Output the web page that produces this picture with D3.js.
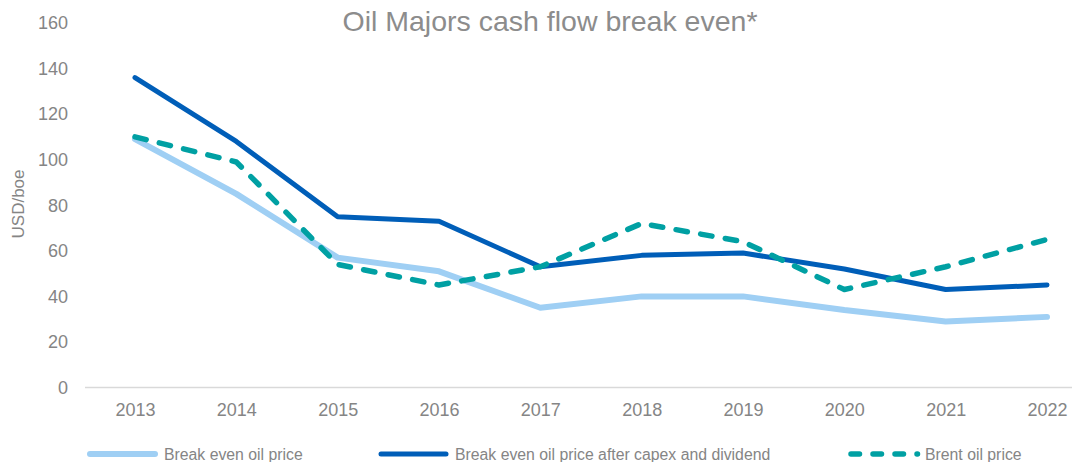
<!DOCTYPE html>
<html>
<head>
<meta charset="utf-8">
<script src="https://cdn.jsdelivr.net/npm/d3@7"></script>
<style>
  body { margin: 0; background: #fff; }
  svg { display: block; font-family: "Liberation Sans", Arial, sans-serif; }
</style>
</head>
<body>
<div id="chart"></div>
<script>
var width = 1072, height = 462;

var years = ["2013", "2014", "2015", "2016", "2017", "2018", "2019", "2020", "2021", "2022"];
var breakEven = [109, 85, 57, 51, 35, 40, 40, 34, 29, 31];
var afterCapex = [136, 108, 75, 73, 53, 58, 59, 52, 43, 45];
var brent = [110, 99, 54, 45, 53, 72, 64, 43, 53, 65];
var yTicks = [0, 20, 40, 60, 80, 100, 120, 140, 160];
var seriesNames = ["Break even oil price", "Break even oil price after capex and dividend", "Brent oil price"];

var series = [
  {name: seriesNames[0], values: breakEven, color: "#9fcff4", width: 6, dash: null, legendDash: null},
  {name: seriesNames[1], values: afterCapex, color: "#005eb8", width: 5, dash: null, legendDash: null},
  {name: seriesNames[2], values: brent, color: "#00a0a3", width: 5.5, dash: "11.5,13.5", legendDash: "8.5,13.5"}
];

var textGrey = "#858585";

var svg = d3.select("#chart").append("svg")
    .attr("width", width)
    .attr("height", height);

var xScale = d3.scalePoint()
    .domain(years)
    .range([135, 1047]);

var yScale = d3.scaleLinear()
    .domain([0, 160])
    .range([387.5, 23]);

// title
svg.append("text")
    .attr("x", 550)
    .attr("y", 31)
    .attr("text-anchor", "middle")
    .attr("fill", "#8c8c8c")
    .style("font-size", "28.5px")
    .text("Oil Majors cash flow break even*");

// y axis (labels only)
var yAxis = d3.axisLeft(yScale)
    .tickValues(yTicks)
    .tickSize(0)
    .tickPadding(0);
var yG = svg.append("g")
    .attr("transform", "translate(68,0)")
    .call(yAxis);
yG.select(".domain").remove();
yG.selectAll("text")
    .attr("fill", textGrey)
    .style("font-size", "18px")
    .style("font-family", "Liberation Sans, Arial, sans-serif");

svg.append("text")
    .attr("transform", "translate(24,204) rotate(-90)")
    .attr("text-anchor", "middle")
    .attr("fill", textGrey)
    .style("font-size", "17px")
    .text("USD/boe");

// x axis
var xAxis = d3.axisBottom(xScale).tickSize(0).tickPadding(16);
var xG = svg.append("g")
    .attr("transform", "translate(0," + yScale(0) + ")")
    .call(xAxis);
xG.select(".domain").remove();
xG.selectAll("text")
    .attr("fill", textGrey)
    .style("font-size", "18px")
    .style("font-family", "Liberation Sans, Arial, sans-serif");

svg.append("line")
    .attr("x1", 85)
    .attr("x2", 1072)
    .attr("y1", yScale(0))
    .attr("y2", yScale(0))
    .attr("stroke", "#d9d9d9")
    .attr("stroke-width", 1.5);

// lines
var line = d3.line()
    .x(function(d, i) { return xScale(years[i]); })
    .y(function(d) { return yScale(d); });

svg.selectAll(".series")
    .data(series)
    .enter().append("path")
    .attr("class", "series")
    .attr("d", function(d) { return line(d.values); })
    .attr("fill", "none")
    .attr("stroke", function(d) { return d.color; })
    .attr("stroke-width", function(d) { return d.width; })
    .attr("stroke-dasharray", function(d) { return d.dash; })
    .attr("stroke-linecap", "round")
    .attr("stroke-linejoin", "round");

// legend
var legendX = [87, 378, 848];
var legend = svg.selectAll(".legend")
    .data(series)
    .enter().append("g")
    .attr("class", "legend")
    .attr("transform", function(d, i) { return "translate(" + legendX[i] + ",454)"; });

legend.append("line")
    .attr("x1", 3)
    .attr("x2", function(d) { return d.legendDash ? 69.5 : 68; })
    .attr("y1", 0)
    .attr("y2", 0)
    .attr("stroke", function(d) { return d.color; })
    .attr("stroke-width", function(d) { return d.width; })
    .attr("stroke-dasharray", function(d) { return d.legendDash; })
    .attr("stroke-linecap", "round");

legend.append("text")
    .attr("x", 77)
    .attr("y", 6)
    .attr("fill", textGrey)
    .style("font-size", "15.8px")
    .text(function(d) { return d.name; });
</script>
</body>
</html>
